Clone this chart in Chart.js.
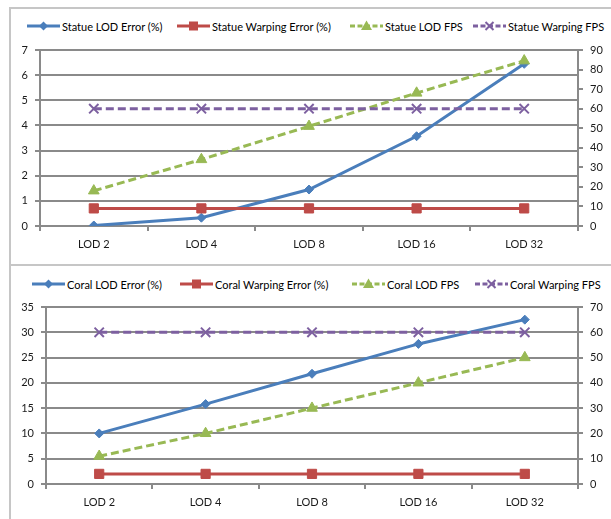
<!DOCTYPE html>
<html><head><meta charset="utf-8">
<script src="https://cdn.jsdelivr.net/npm/chart.js@4/dist/chart.umd.min.js"></script>
<style>
html,body{margin:0;padding:0;width:611px;height:519px;overflow:hidden;background:#fff;font-family:Lato,'Liberation Sans',sans-serif;}
.frame{position:absolute;border:2px solid #c6c6c6;box-sizing:border-box;}
.cv{position:absolute;}
.leg{position:absolute;font-size:11px;color:#000;white-space:nowrap;display:flex;align-items:center;height:14px;}
.leg svg{margin-right:2px;flex:none;}
</style></head>
<body>
<div class="frame" style="left:9px;top:7px;width:620px;height:259px;"></div>
<div class="frame" style="left:9px;top:264px;width:620px;height:270px;"></div>
<div id="leg1"></div><div id="leg2"></div>
<canvas id="c1" class="cv" width="599" height="226" style="left:12px;top:36px;"></canvas>
<canvas id="c2" class="cv" width="599" height="226" style="left:12px;top:293px;"></canvas>
<script>
// ---- data ----
const categories = ['LOD 2', 'LOD 4', 'LOD 8', 'LOD 16', 'LOD 32'];

const statueLabels = ['Statue LOD Error (%)', 'Statue Warping Error (%)', 'Statue LOD FPS', 'Statue Warping FPS'];
const statueLodError = [0.02, 0.33, 1.45, 3.57, 6.45];
const statueWarpingError = [0.7, 0.7, 0.7, 0.7, 0.7];
const statueLodFps = [18, 34, 51, 68, 84.5];
const statueWarpingFps = [60, 60, 60, 60, 60];
const statueLeftAxis = {min: 0, max: 7, step: 1};
const statueRightAxis = {min: 0, max: 90, step: 10};

const coralLabels = ['Coral LOD Error (%)', 'Coral Warping Error (%)', 'Coral LOD FPS', 'Coral Warping FPS'];
const coralLodError = [10, 15.8, 21.8, 27.7, 32.5];
const coralWarpingError = [2, 2, 2, 2, 2];
const coralLodFps = [11, 20, 30, 40, 50];
const coralWarpingFps = [60, 60, 60, 60, 60];
const coralLeftAxis = {min: 0, max: 35, step: 5};
const coralRightAxis = {min: 0, max: 70, step: 10};

// ---- styles ----
const BLUE = '#4a7ebb', RED = '#be4b48', GREEN = '#98b954', PURPLE = '#7d60a0';
const GRID = '#8a8a8a';
const FONT = 'Lato, "Liberation Sans", sans-serif';
const seriesStyle = [
  {color: BLUE, axis: 'y', point: 'rectRot', radius: 4.5, dash: [], pbw: 1, icon: 'diamond'},
  {color: RED, axis: 'y', point: 'rect', radius: 6.5, dash: [], pbw: 1, icon: 'square'},
  {color: GREEN, axis: 'y1', point: 'triangle', radius: 6.2, dash: [8, 4], pbw: 1, icon: 'triangle'},
  {color: PURPLE, axis: 'y1', point: 'crossRot', radius: 6.6, dash: [8, 4], pbw: 2, icon: 'cross'}
];

function makeDatasets(labels, arrays) {
  return arrays.map((d, i) => {
    const s = seriesStyle[i];
    return {
      label: labels[i], data: d, yAxisID: s.axis,
      borderColor: s.color, backgroundColor: s.color, borderWidth: 3,
      borderDash: s.dash, borderCapStyle: 'butt', tension: 0, fill: false,
      pointStyle: s.point, pointRadius: s.radius, pointHoverRadius: s.radius,
      pointBackgroundColor: s.color, pointBorderColor: s.color, pointBorderWidth: s.pbw,
      order: 4 - i
    };
  });
}

function makeChart(id, labels, arrays, left, right, dims) {
  const tickFont = {family: FONT, size: 11};
  return new Chart(document.getElementById(id), {
    type: 'line',
    data: {labels: categories, datasets: makeDatasets(labels, arrays)},
    options: {
      responsive: false, animation: false, devicePixelRatio: 1,
      layout: {padding: {top: dims.top, left: 0, right: 0, bottom: 0}},
      plugins: {legend: {display: false}, tooltip: {enabled: false}},
      scales: {
        x: {
          type: 'category', offset: true,
          grid: {offset: true, drawOnChartArea: false, drawTicks: true, tickLength: 5, color: GRID, lineWidth: 2},
          border: {display: true, color: GRID, width: 2},
          ticks: {color: '#1a1a1a', font: tickFont, padding: 7, maxRotation: 0, autoSkip: false},
          afterFit(s) { s.height = dims.xh; }
        },
        y: {
          position: 'left', min: left.min, max: left.max,
          ticks: {stepSize: left.step, color: '#1a1a1a', font: tickFont, padding: 7},
          grid: {color: GRID, lineWidth: 2, tickLength: 5, drawTicks: true},
          border: {display: true, color: GRID, width: 2},
          afterFit(s) { s.width = dims.lw; }
        },
        y1: {
          position: 'right', min: right.min, max: right.max,
          ticks: {stepSize: right.step, color: '#1a1a1a', font: tickFont, padding: 7},
          grid: {drawOnChartArea: false, color: GRID, lineWidth: 2, tickLength: 5, drawTicks: true},
          border: {display: true, color: GRID, width: 2},
          afterFit(s) { s.width = dims.rw; }
        }
      }
    }
  });
}

makeChart('c1', statueLabels, [statueLodError, statueWarpingError, statueLodFps, statueWarpingFps],
  statueLeftAxis, statueRightAxis, {top: 14, xh: 36, lw: 28, rw: 33});
makeChart('c2', coralLabels, [coralLodError, coralWarpingError, coralLodFps, coralWarpingFps],
  coralLeftAxis, coralRightAxis, {top: 14, xh: 35, lw: 34, rw: 33});

// ---- HTML legends ----
function iconSvg(s) {
  const dash = s.dash.length ? 'stroke-dasharray="5,2.5"' : '';
  let m = '';
  if (s.icon === 'diamond') m = `<polygon points="16.5,2.5 21,7 16.5,11.5 12,7" fill="${s.color}"/>`;
  if (s.icon === 'square') m = `<rect x="12" y="2.5" width="9" height="9" fill="${s.color}"/>`;
  if (s.icon === 'triangle') m = `<polygon points="16.5,1.5 22,11 11,11" fill="${s.color}"/>`;
  if (s.icon === 'cross') m = `<line x1="12.5" y1="3" x2="20.5" y2="11" stroke="${s.color}" stroke-width="2"/><line x1="12.5" y1="11" x2="20.5" y2="3" stroke="${s.color}" stroke-width="2"/>`;
  return `<svg width="33" height="14" viewBox="0 0 33 14"><line x1="0" y1="7" x2="33" y2="7" stroke="${s.color}" stroke-width="3" ${dash}/>${m}</svg>`;
}
function makeLegend(id, labels, xs, cy) {
  const host = document.getElementById(id);
  labels.forEach((t, i) => {
    const d = document.createElement('div');
    d.className = 'leg';
    d.style.left = xs[i] + 'px';
    d.style.top = (cy - 7) + 'px';
    d.innerHTML = iconSvg(seriesStyle[i]) + '<span>' + t + '</span>';
    host.appendChild(d);
  });
}
makeLegend('leg1', statueLabels, [27, 177, 350, 473], 26);
makeLegend('leg2', coralLabels, [32, 180, 352, 475], 284);
</script>
</body></html>
